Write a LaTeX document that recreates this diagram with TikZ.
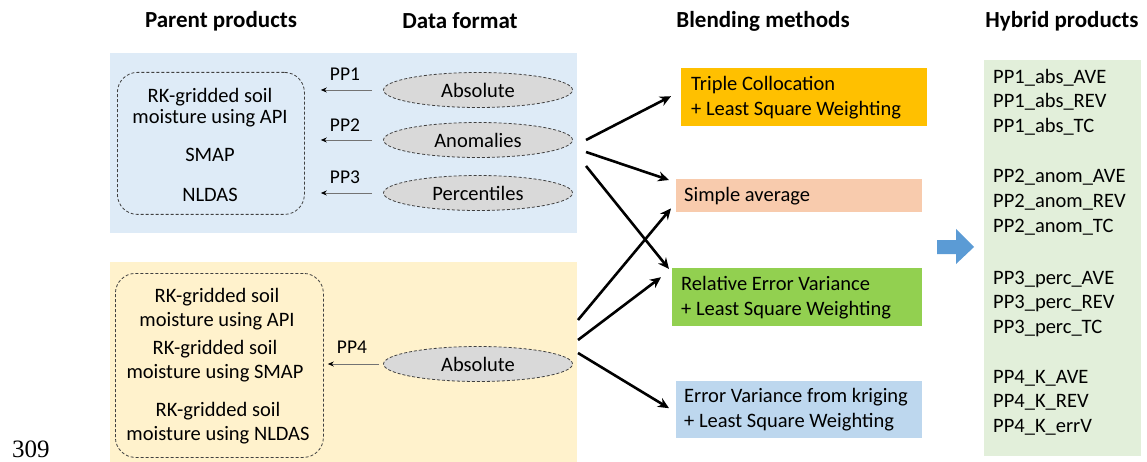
\documentclass[tikz,border=0pt]{standalone}
\usepackage{fontspec}
\setmainfont{Carlito}
\newfontfamily\numfont{Liberation Serif}
\usetikzlibrary{arrows.meta,shapes.geometric,calc}
\definecolor{panelblue}{HTML}{DEEBF7}
\definecolor{panelyellow}{HTML}{FFF2CC}
\definecolor{panelgreen}{HTML}{E2EFDA}
\definecolor{tcorange}{HTML}{FFC000}
\definecolor{avsalmon}{HTML}{F8CBAD}
\definecolor{revgreen}{HTML}{92D050}
\definecolor{krblue}{HTML}{BDD7EE}
\definecolor{bigarrow}{HTML}{5B9BD5}
\definecolor{ellgray}{HTML}{D9D9D9}
\begin{document}
\begin{tikzpicture}[x=1pt,y=-1pt,
  body/.style={font=\fontsize{20.5}{24.5}\selectfont, inner sep=0pt},
  head/.style={font=\bfseries\fontsize{23}{27}\selectfont, inner sep=0pt},
  pplabel/.style={font=\fontsize{19.5}{23}\selectfont, inner sep=0pt},
  panel/.style={draw=none, rectangle, inner sep=0pt},
  dbox/.style={draw=black!75, dash pattern=on 3pt off 2pt, line width=0.8pt, rounded corners=20pt, rectangle, inner sep=0pt},
  ell/.style={ellipse, draw=black!75, dash pattern=on 3pt off 2pt, line width=0.8pt, fill=ellgray, minimum width=189pt, minimum height=35pt, inner sep=0pt, font=\fontsize{20.5}{24.5}\selectfont},
  mbox/.style={rectangle, inner sep=0pt, anchor=north west},
  boxtext/.style={font=\fontsize{20.5}{25}\selectfont, align=left, anchor=west, inner sep=0pt},
  pparrow/.style={draw=black!55, line width=0.9pt, -{Stealth[length=6pt,width=5pt,black]}},
  barrow/.style={line width=2.6pt, -{Stealth[length=11pt,width=10pt]}},
  listtext/.style={font=\fontsize{20.5}{25}\selectfont, anchor=west, inner sep=0pt}
]
\useasboundingbox (0,0) rectangle (1147,462);
\fill[white] (0,0) rectangle (1147,462);

% headings
\node[head] (h1) at (221,21) {Parent products};
\node[head] (h2) at (460,21) {Data format};
\node[head] (h3) at (763,21) {Blending methods};
\node[head] (h4) at (1062,21) {Hybrid products};

% panels
\node[panel, fill=panelblue, minimum width=467pt, minimum height=180pt, anchor=north west] (pblue) at (110,53) {};
\node[panel, fill=panelyellow, minimum width=467pt, minimum height=200pt, anchor=north west] (pyellow) at (110,262) {};

% top dashed box
\node[dbox, minimum width=187pt, minimum height=142pt, anchor=north west] (boxA) at (117,72) {};
\node[body] (a1) at (210,97) {RK-gridded soil};
\node[body] (a2) at (210,118) {moisture using API};
\node[body] (a3) at (210,155) {SMAP};
\node[body] (a4) at (210,195) {NLDAS};

% ellipses top
\node[ell] (e1) at (478,90) {Absolute};
\node[ell] (e2) at (478,140) {Anomalies};
\node[ell] (e3) at (478,193) {Percentiles};

\node[pplabel] (l1) at (345,74) {PP1};
\node[pplabel] (l2) at (345,125) {PP2};
\node[pplabel] (l3) at (345,177) {PP3};

\draw[pparrow] ([xshift=-11pt]e1.west) -- ([xshift=16pt]boxA.east |- e1.west);
\draw[pparrow] ([xshift=-11pt]e2.west) -- ([xshift=16pt]boxA.east |- e2.west);
\draw[pparrow] ([xshift=-11pt]e3.west) -- ([xshift=16pt]boxA.east |- e3.west);

% bottom dashed box
\node[dbox, minimum width=208pt, minimum height=184pt, anchor=north west] (boxB) at (115,273) {};
\node[body] (b1) at (217,297) {RK-gridded soil};
\node[body] (b2) at (217,321) {moisture using API};
\node[body] (b3) at (215,349) {RK-gridded soil};
\node[body] (b4) at (215,373) {moisture using SMAP};
\node[body] (b5) at (218,411) {RK-gridded soil};
\node[body] (b6) at (218,435) {moisture using NLDAS};

\node[ell] (e4) at (478,364) {Absolute};
\node[pplabel] (l4) at (352,347) {PP4};
\draw[pparrow] ([xshift=-4pt]e4.west) -- ([xshift=4pt]boxB.east |- e4.west);

% blending method boxes
\node[mbox, fill=tcorange, minimum width=246pt, minimum height=58pt] (tc) at (681,68) {};
\node[boxtext] at ($(tc.west)+(10,0)$) {Triple Collocation\\+ Least Square Weighting};
\node[mbox, fill=avsalmon, minimum width=246pt, minimum height=33pt] (sa) at (676,179) {};
\node[boxtext] at ($(sa.west)+(8,0)$) {Simple average};
\node[mbox, fill=revgreen, minimum width=250pt, minimum height=58pt] (rev) at (672,268) {};
\node[boxtext] at ($(rev.west)+(9,0)$) {Relative Error Variance\\+ Least Square Weighting};
\node[mbox, fill=krblue, minimum width=246pt, minimum height=57pt] (kr) at (676,381) {};
\node[boxtext] at ($(kr.west)+(8,0)$) {Error Variance from kriging\\+ Least Square Weighting};

% arrow starts
\coordinate (s1) at (586,140);
\coordinate (s2) at (586,152);
\coordinate (s3) at (586,166);
\coordinate (s4) at (578,320);
\coordinate (s5) at (578,340);
\coordinate (s6) at (578,353);

\draw[barrow] (s1) -- ([xshift=-10pt,yshift=1pt]tc.west);
\draw[barrow] (s2) -- ([xshift=-7pt,yshift=-1pt]sa.north west);
\draw[barrow] (s3) -- ([xshift=-3pt,yshift=-1pt]rev.north west);
\draw[barrow] (s4) -- ([xshift=-5pt,yshift=4pt]sa.south west);
\draw[barrow] (s5) -- ([xshift=-11pt,yshift=20pt]rev.west);
\draw[barrow] (s6) -- ([xshift=-7pt,yshift=1.5pt]kr.west);

% big block arrow
\fill[bigarrow] (937,240) -- (956,240) -- (956,229) -- (974,247) -- (956,264) -- (956,254) -- (937,254) -- cycle;

% hybrid products panel
\node[panel, fill=panelgreen, minimum width=157pt, minimum height=396pt, anchor=north west] (pgreen) at (984,60) {};
\node[listtext] (r1) at (993,78) {PP1\_abs\_AVE};
\node[listtext] (r2) at (993,102) {PP1\_abs\_REV};
\node[listtext] (r3) at (993,127) {PP1\_abs\_TC};
\node[listtext] (r4) at (993,177) {PP2\_anom\_AVE};
\node[listtext] (r5) at (993,202) {PP2\_anom\_REV};
\node[listtext] (r6) at (993,227) {PP2\_anom\_TC};
\node[listtext] (r7) at (993,279) {PP3\_perc\_AVE};
\node[listtext] (r8) at (993,303) {PP3\_perc\_REV};
\node[listtext] (r9) at (993,328) {PP3\_perc\_TC};
\node[listtext] (r10) at (993,378) {PP4\_K\_AVE};
\node[listtext] (r11) at (993,402) {PP4\_K\_REV};
\node[listtext] (r12) at (993,427) {PP4\_K\_errV};

% page number
\node[font=\numfont\fontsize{25}{30}\selectfont, inner sep=0pt, anchor=base] (pg) at (31,457) {309};
\end{tikzpicture}
\end{document}
